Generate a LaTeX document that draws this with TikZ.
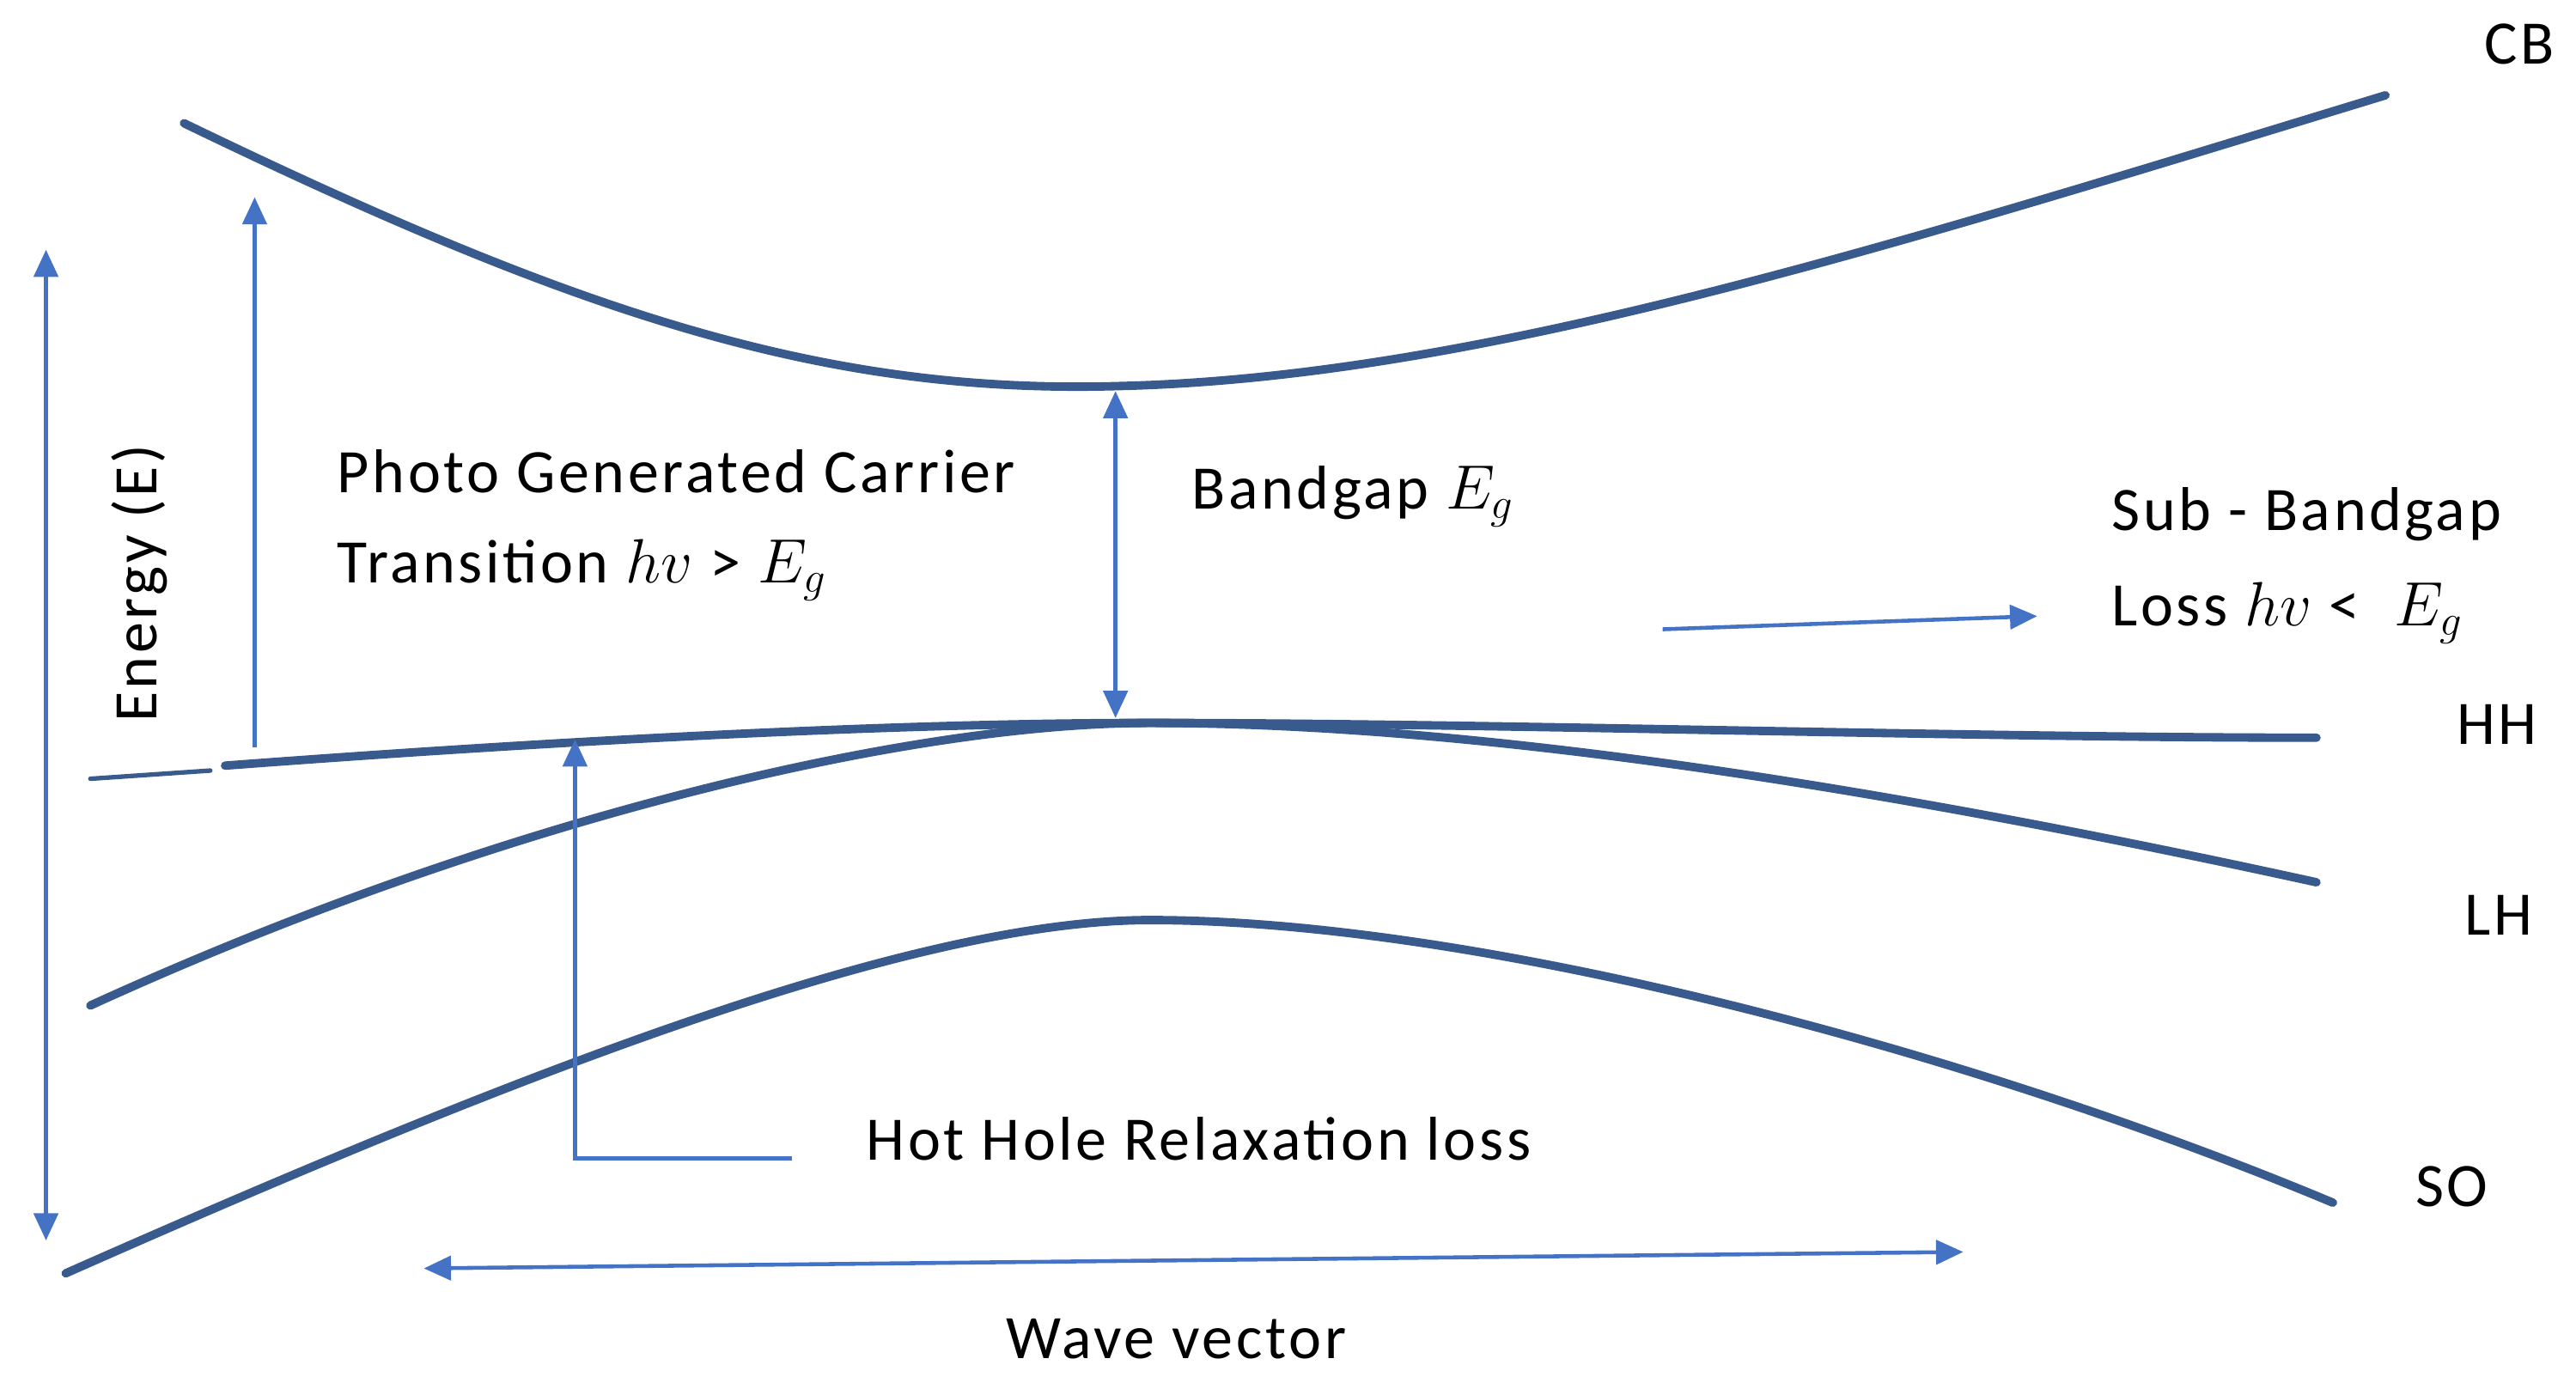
\documentclass[tikz,border=0pt]{standalone}
\usepackage{fontspec}
\setmainfont{Carlito}[LetterSpace=5]
\usetikzlibrary{arrows.meta}
\definecolor{bandblue}{RGB}{56,90,140}
\definecolor{arrblue}{RGB}{68,114,196}
\tikzset{
  band/.style={bandblue, line width=2.8pt, line cap=round},
  arr/.style={arrblue, line width=1.3pt, -{Triangle[length=9pt,width=8pt]}},
  darr/.style={arrblue, line width=1.3pt, {Triangle[length=9pt,width=8pt]}-{Triangle[length=9pt,width=8pt]}},
  lbl/.style={font=\fontsize{20.5}{24}\selectfont, anchor=west, inner sep=0pt}
}
\begin{document}
\begin{tikzpicture}[x=0.019127cm, y=-0.019127cm]
\useasboundingbox (0,0) rectangle (1568,838);
% bands
\draw[band] (112,75) .. controls (350,190) and (500,240) .. (680,235)
  .. controls (900,230) and (1150,150) .. (1452,58);
\draw[band] (137,466) .. controls (350,450) and (550,440) .. (700,440)
  .. controls (900,440) and (1200,449) .. (1410,449);
\draw[band, line width=1.5pt] (55,474) -- (128,469);
\draw[band] (55,612) .. controls (300,500) and (550,440) .. (700,440)
  .. controls (900,440) and (1150,480) .. (1410,537);
\draw[band] (40,775) .. controls (300,660) and (550,560) .. (700,560)
  .. controls (900,560) and (1200,640) .. (1420,732);
% labels of bands
\node[lbl] (cb) at (1512,27) {CB};
\node[lbl] (hh) at (1495,441) {HH};
\node[lbl] (lh) at (1500,557) {LH};
\node[lbl] (so) at (1470,722) {SO};
% coordinates for arrows
\coordinate (eTop) at (28,152);
\coordinate (eBot) at (28,755);
\coordinate (phBot) at (155,455);
\coordinate (phTop) at (155,120);
\coordinate (bgTop) at (679,238);
\coordinate (bgBot) at (679,437);
\coordinate (sbL) at (1012,383);
\coordinate (sbR) at (1240,375);
\coordinate (hhS) at (482,705);
\coordinate (hhC) at (350,705);
\coordinate (hhE) at (350,450);
\coordinate (wvL) at (258,772);
\coordinate (wvR) at (1195,762);
\draw[darr] (eTop) -- (eBot);
\draw[arr] (phBot) -- (phTop);
\draw[darr] (bgTop) -- (bgBot);
\draw[arr] (sbL) -- (sbR);
\draw[arr] (hhS) -- (hhC) -- (hhE);
\draw[darr] (wvL) -- (wvR);
% texts
\node[lbl, rotate=90] (energy) at (85,440) {Energy (E)};
\node[lbl] (photo1) at (205,287) {Photo Generated Carrier};
\node[lbl] (photo2) at (205,347) {Transition $hv$ > $E_g$};
\node[lbl] (bandgap) at (725,302) {Bandgap $E_g$};
\node[lbl] (sub1) at (1285,313) {Sub - Bandgap};
\node[lbl] (sub2) at (1285,373) {Loss $hv$ <\ \ $E_g$};
\node[lbl] (hot) at (527,693) {Hot Hole Relaxation loss};
\node[lbl] (wave) at (612,815) {Wave vector};
\end{tikzpicture}
\end{document}
